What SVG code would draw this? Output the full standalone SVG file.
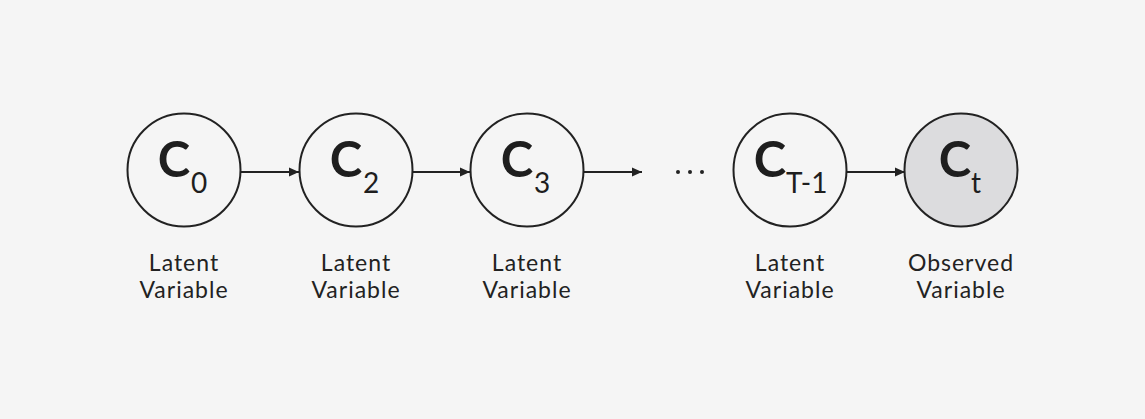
<svg xmlns="http://www.w3.org/2000/svg" width="1145" height="419" viewBox="0 0 1145 419">
<defs>
<marker id="arr" viewBox="0 0 10 10" refX="10" refY="5" markerWidth="10" markerHeight="10" markerUnits="userSpaceOnUse" orient="auto">
<path d="M0,0.5 L10,5 L0,9.5 Z" fill="#222"/>
</marker>
</defs>
<style>
.node{fill:none;stroke:#222;stroke-width:2}
.obs{fill:#dcdcde}
.big{font-family:Lato,"Noto Sans",sans-serif;font-size:49px;font-weight:700;fill:#1e1e1e}
.sub{font-family:Lato,"Noto Sans",sans-serif;font-size:28px;font-weight:400;fill:#1e1e1e}
.lab{font-family:Lato,"Noto Sans",sans-serif;font-size:23px;font-weight:400;fill:#222;text-anchor:middle;letter-spacing:1px}
.edge{stroke:#222;stroke-width:2;fill:none}
</style>
<rect width="1145" height="419" fill="#f5f5f5"/>
<g id="connectors">
<line class="edge" x1="241" y1="172" x2="299" y2="172" marker-end="url(#arr)"/>
<line class="edge" x1="413" y1="172" x2="470" y2="172" marker-end="url(#arr)"/>
<line class="edge" x1="584" y1="172" x2="642" y2="172" marker-end="url(#arr)"/>
<line class="edge" x1="847" y1="172" x2="905" y2="172" marker-end="url(#arr)"/>
</g>
<g id="n0">
<circle class="node" cx="184" cy="170" r="56.5"/>
<text class="big" x="174" y="177" text-anchor="middle">C</text>
<text class="sub" x="191" y="193">0</text>
<text class="lab" x="184" y="271">Latent</text>
<text class="lab" x="184" y="298">Variable</text>
</g>
<g id="n2">
<circle class="node" cx="356" cy="170" r="56.5"/>
<text class="big" x="346" y="177" text-anchor="middle">C</text>
<text class="sub" x="363" y="193">2</text>
<text class="lab" x="356" y="271">Latent</text>
<text class="lab" x="356" y="298">Variable</text>
</g>
<g id="n3">
<circle class="node" cx="527" cy="170" r="56.5"/>
<text class="big" x="517" y="177" text-anchor="middle">C</text>
<text class="sub" x="534" y="193">3</text>
<text class="lab" x="527" y="271">Latent</text>
<text class="lab" x="527" y="298">Variable</text>
</g>
<g id="ellipsis">
<circle cx="678" cy="172" r="2" fill="#222"/>
<circle cx="690" cy="172" r="2" fill="#222"/>
<circle cx="702" cy="172" r="2" fill="#222"/>
</g>
<g id="nT1">
<circle class="node" cx="790" cy="170" r="56.5"/>
<text class="big" x="770" y="177" text-anchor="middle">C</text>
<text class="sub" x="786" y="193">T-1</text>
<text class="lab" x="790" y="271">Latent</text>
<text class="lab" x="790" y="298">Variable</text>
</g>
<g id="nt">
<circle class="node obs" cx="961" cy="170" r="56.5"/>
<text class="big" x="955" y="177" text-anchor="middle">C</text>
<text class="sub" x="971" y="193">t</text>
<text class="lab" x="961" y="271">Observed</text>
<text class="lab" x="961" y="298">Variable</text>
</g>
</svg>
